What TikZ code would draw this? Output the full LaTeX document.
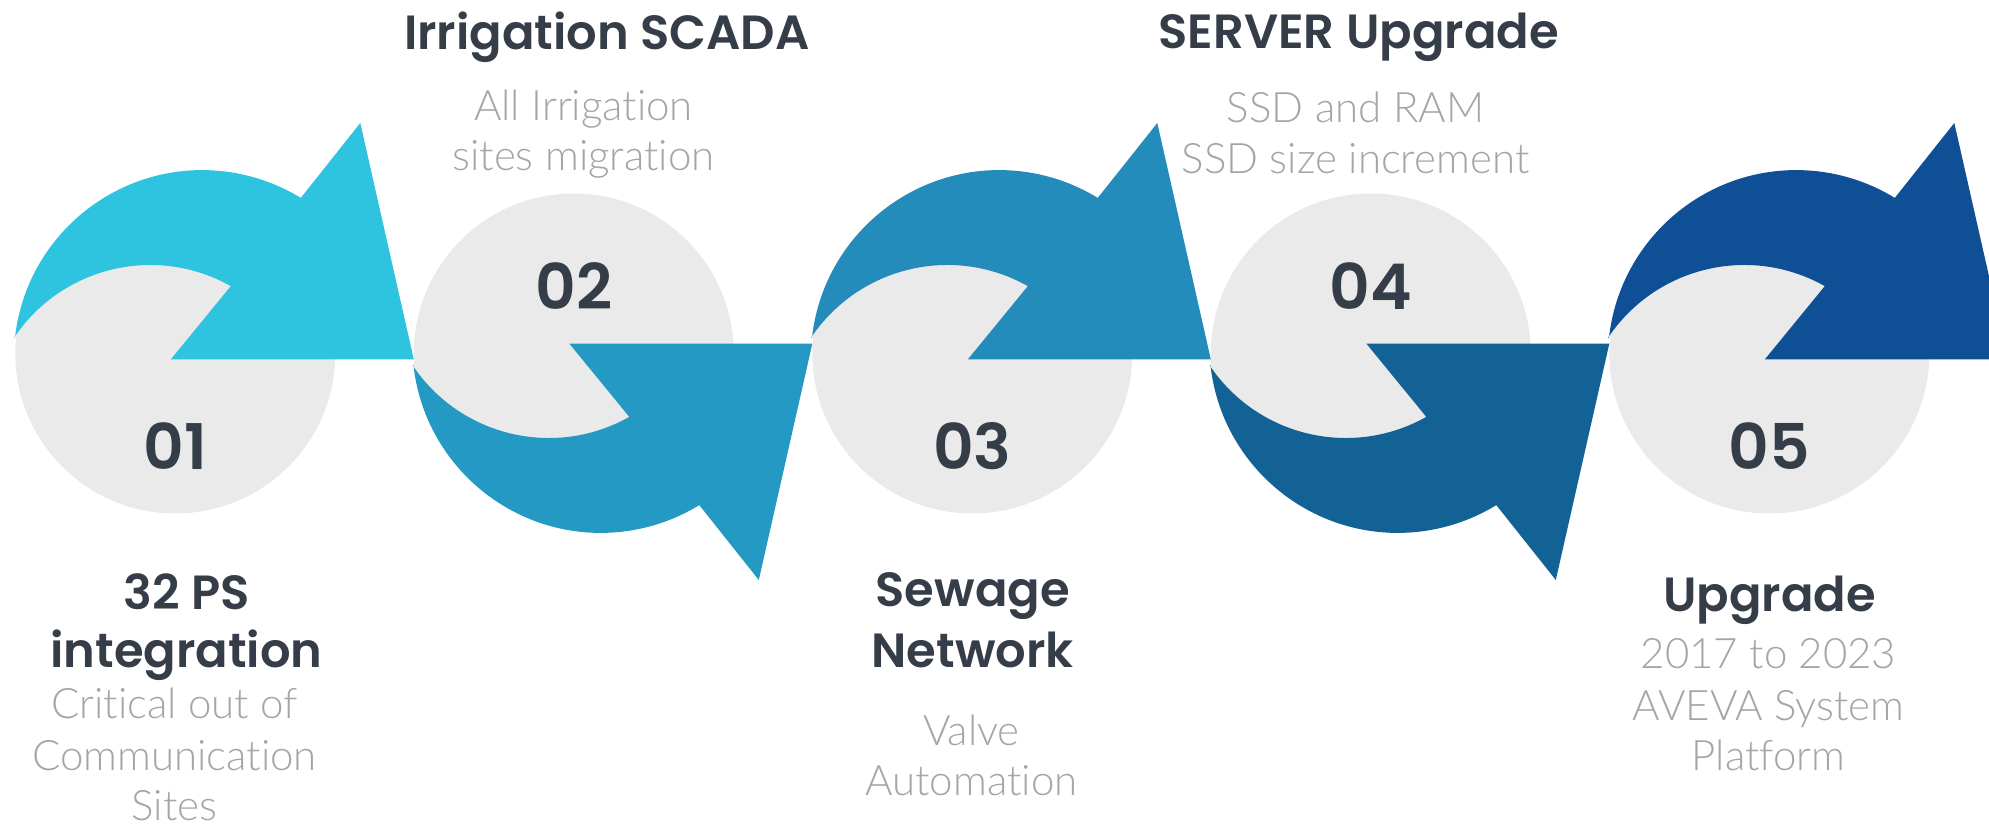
\documentclass[tikz,border=0pt]{standalone}
\usepackage{fontspec}
\newfontfamily\headfont{Poppins SemiBold}
\newfontfamily\bodyfont{Lato Light}[Ligatures={NoCommon}]
\definecolor{cA}{HTML}{2EC4DF}
\definecolor{cB}{HTML}{2399C3}
\definecolor{cC}{HTML}{248CBA}
\definecolor{cD}{HTML}{126296}
\definecolor{cE}{HTML}{0F4F96}
\definecolor{grayfill}{HTML}{EAEAEA}
\definecolor{darktext}{HTML}{353D48}
\definecolor{graytext}{HTML}{A5A5A5}
\newcommand\cyclearrow[4]{%
  \begin{scope}[shift={(#1,#2)}, yscale=#3]
    \fill[#4] (-160.36,16.08) arc[start angle=173.7, end angle=58.5, radius=188.5]
      -- (185,231) -- (238.5,-5.3) -- (-4.4,-5.3) -- (55.49,67.88)
      arc[start angle=60.6, end angle=146.1, radius=164] -- cycle;
  \end{scope}}
\begin{document}
\begin{tikzpicture}[x=1pt,y=1pt,
  disc/.style={circle, fill=grayfill, minimum size=320pt, inner sep=0, draw=none},
  head/.style={anchor=base, text=darktext, font=\headfont\fontsize{48}{58}\selectfont, inner sep=0},
  num/.style={anchor=base, text=darktext, font=\headfont\fontsize{63}{63}\selectfont, inner sep=0},
  body/.style={anchor=base, text=graytext, font=\bodyfont\fontsize{42}{51}\selectfont, inner sep=0}]
\useasboundingbox (0,0) rectangle (1989,823);
% grey discs
\node[disc] (g1) at (175.3,469.5) {};
\node[disc] (g2) at (573.8,469.5) {};
\node[disc] (g3) at (972.3,469.5) {};
\node[disc] (g4) at (1370.8,469.5) {};
\node[disc] (g5) at (1769.3,469.5) {};
% arrows
\cyclearrow{175.3}{469}{1}{cA}
\cyclearrow{573.8}{474}{-1}{cB}
\cyclearrow{972.3}{469}{1}{cC}
\cyclearrow{1370.8}{474}{-1}{cD}
\cyclearrow{1769.3}{469}{1}{cE}
% numbers
\node[num] (n1) at (175.3,353) {01};
\node[num] (n2) at (573.8,513) {02};
\node[num] (n3) at (972.3,353) {03};
\node[num] (n4) at (1370.8,513) {04};
\node[num] (n5) at (1769.3,353) {05};
% top texts
\node[head] (h2) at (607,773) {Irrigation SCADA};
\node[body] (b2a) at (583.5,702.3) {All Irrigation};
\node[body] (b2b) at (583.5,652) {sites migration};
\node[head] (h4) at (1358.7,774) {SERVER Upgrade};
\node[body] (b4a) at (1355.5,700.3) {SSD and RAM};
\node[body] (b4b) at (1355.5,649.7) {SSD size increment};
% bottom texts
\node[head] (h1a) at (186.5,214) {32 PS};
\node[head] (h1b) at (186.5,156) {integration};
\node[body] (b1a) at (174.5,104.7) {Critical out of};
\node[body] (b1b) at (174.5,53) {Communication};
\node[body] (b1c) at (174.5,3) {Sites};
\node[head] (h3a) at (972.7,216.3) {Sewage};
\node[head] (h3b) at (972.7,156) {Network};
\node[body] (b3a) at (971.5,78) {Valve};
\node[body] (b3b) at (971.5,28) {Automation};
\node[head] (h5) at (1769.5,211.3) {Upgrade};
\node[body] (b5a) at (1768.5,155) {2017 to 2023};
\node[body] (b5b) at (1768.5,103) {AVEVA System};
\node[body] (b5c) at (1768.5,52.3) {Platform};
\end{tikzpicture}
\end{document}
